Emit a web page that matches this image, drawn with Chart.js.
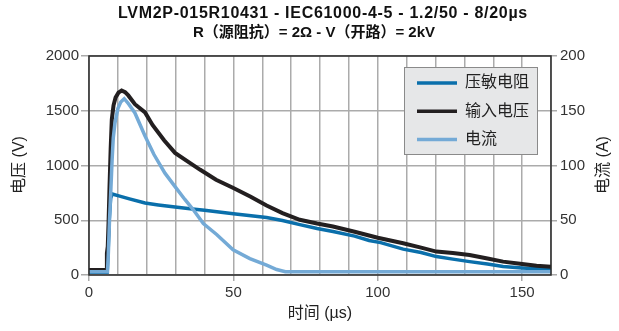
<!doctype html>
<html>
<head>
<meta charset="utf-8">
<title>LVM2P-015R10431 surge test</title>
<script src="https://cdn.jsdelivr.net/npm/chart.js@4.4.0/dist/chart.umd.min.js"></script>
<style>
  html, body { margin: 0; padding: 0; background: #fff; }
</style>
</head>
<body>
<canvas id="chart" width="619" height="331"></canvas>
<script>
// time in microseconds, voltage in V, current in A
var tVaristor = [0, 6.3, 6.6, 7.0, 7.5, 8.0, 10, 14, 19.4, 24, 29.8, 35, 40, 50, 61.5, 67, 73, 79, 84.5, 92, 97, 101, 108.8, 115, 120.3, 126, 131.8, 138, 143.4, 150, 155, 160];
var vVaristor = [25, 25, 200, 500, 700, 740, 725, 695, 657, 640, 620, 605, 592, 560, 525, 498, 460, 425, 397, 355, 315, 296, 236, 205, 168, 145, 122, 100, 78, 65, 58, 52];

var tInput = [0, 5.9, 6.2, 6.5, 6.8, 7.1, 7.5, 7.9, 8.5, 9.2, 10.2, 11.3, 12.5, 13.6, 15.9, 19.4, 22, 26, 29.8, 34, 38.4, 44, 50, 56, 61.5, 67, 73, 79, 84.5, 92, 100, 108.8, 115, 120.3, 126, 131.8, 138, 143.4, 150, 155, 160];
var vInput = [45, 45, 200, 260, 500, 800, 1150, 1420, 1550, 1620, 1665, 1685, 1670, 1640, 1560, 1485, 1370, 1230, 1115, 1040, 963, 870, 795, 715, 635, 565, 504, 470, 443, 395, 340, 290, 250, 214, 200, 183, 150, 122, 100, 85, 76];

var tCurrent = [0, 6.4, 6.7, 7.1, 7.6, 8.0, 8.4, 9.0, 10.0, 11.0, 12.2, 13.5, 15.9, 19.4, 22.5, 26.3, 30, 33.2, 36, 39.6, 44.2, 49.9, 55.7, 61.5, 65, 68, 80, 100, 120, 140, 160];
var iCurrent = [3, 3, 20, 50, 80, 105, 125, 139, 152, 158, 161, 157, 148, 127, 110, 93, 80, 69, 60, 47, 37, 23, 15, 9, 5, 3, 3, 3, 3, 3, 3];

var titleLines = ['LVM2P-015R10431 - IEC61000-4-5 - 1.2/50 - 8/20\u00b5s', 'R\uff08\u6e90\u963b\u6297\uff09= 2\u03a9 - V\uff08\u5f00\u8def\uff09= 2kV'];
var seriesNames = ['\u538b\u654f\u7535\u963b', '\u8f93\u5165\u7535\u538b', '\u7535\u6d41'];
var seriesColors = ['#0a6fab', '#231f20', '#74aad6'];

var FONT = '"Liberation Sans", Arial, "Noto Sans CJK SC", sans-serif';

function pts(xs, ys) {
	return xs.map(function (x, i) { return { x: x, y: ys[i] }; });
}

var overlay = {
	id: 'overlay',
	afterDraw: function (chart) {
		var ctx = chart.ctx;
		var a = chart.chartArea;
		ctx.save();

		// plot frame
		ctx.strokeStyle = '#2b2b2b';
		ctx.lineWidth = 1.5;
		ctx.strokeRect(a.left, a.top, a.right - a.left, a.bottom - a.top);

		// title (two lines)
		ctx.fillStyle = '#111';
		ctx.textAlign = 'center';
		ctx.textBaseline = 'middle';
		ctx.font = 'bold 16px ' + FONT;
		ctx.letterSpacing = '0.7px';
		ctx.fillText(titleLines[0], 323, 14);
		ctx.letterSpacing = '0px';
		ctx.font = 'bold 15px ' + FONT;
		ctx.fillText(titleLines[1], 314, 33);

		// axis titles
		ctx.font = '16px ' + FONT;
		ctx.fillStyle = '#222';
		ctx.fillText('\u65f6\u95f4 (\u00b5s)', 320, 314);
		ctx.save();
		ctx.translate(20, 165);
		ctx.rotate(-Math.PI / 2);
		ctx.fillText('\u7535\u538b (V)', 0, 0);
		ctx.restore();
		ctx.save();
		ctx.translate(604, 165);
		ctx.rotate(-Math.PI / 2);
		ctx.fillText('\u7535\u6d41 (A)', 0, 0);
		ctx.restore();

		// legend box
		ctx.fillStyle = '#e6e7e8';
		ctx.fillRect(404, 67, 134, 88);
		ctx.strokeStyle = '#8a8a8a';
		ctx.lineWidth = 1;
		ctx.strokeRect(404.5, 67.5, 133, 87);
		ctx.textAlign = 'left';
		ctx.font = '16px ' + FONT;
		for (var i = 0; i < seriesNames.length; i++) {
			var y = 83 + i * 28.3;
			ctx.strokeStyle = seriesColors[i];
			ctx.lineWidth = 3.5;
			ctx.beginPath();
			ctx.moveTo(417, y);
			ctx.lineTo(457, y);
			ctx.stroke();
			ctx.fillStyle = '#222';
			ctx.fillText(seriesNames[i], 465, y);
		}
		ctx.restore();
	}
};

var gridGray = '#ababab';
var plain = function (v) { return String(v); };

var config = {
	type: 'line',
	data: {
		datasets: [{
			label: seriesNames[2],
			data: pts(tCurrent, iCurrent),
			borderColor: seriesColors[2],
			borderWidth: 3.5,
			yAxisID: 'yRight',
			order: 0
		}, {
			label: seriesNames[1],
			data: pts(tInput, vInput),
			borderColor: seriesColors[1],
			borderWidth: 4,
			yAxisID: 'y',
			order: 1
		}, {
			label: seriesNames[0],
			data: pts(tVaristor, vVaristor),
			borderColor: seriesColors[0],
			borderWidth: 3.5,
			yAxisID: 'y',
			order: 2
		}]
	},
	options: {
		responsive: false,
		animation: false,
		layout: { padding: { top: 56, left: 0, right: 0, bottom: 0 } },
		elements: { point: { radius: 0 }, line: { tension: 0 } },
		plugins: { legend: { display: false }, title: { display: false }, tooltip: { enabled: false } },
		scales: {
			x: {
				type: 'linear',
				min: 0,
				max: 160,
				afterFit: function (s) { s.height = 56; },
				ticks: {
					stepSize: 10,
					autoSkip: false,
					maxRotation: 0,
					padding: 3,
					color: '#333',
					font: { family: FONT, size: 15 },
					callback: function (v) { return v % 50 === 0 ? String(v) : ''; }
				},
				grid: {
					color: gridGray,
					lineWidth: 1.5,
					tickLength: 6,
					tickColor: function (c) { return c.tick && c.tick.value % 50 === 0 ? gridGray : 'rgba(0,0,0,0)'; }
				},
				border: { display: false }
			},
			y: {
				position: 'left',
				min: 0,
				max: 2000,
				afterFit: function (s) { s.width = 89; },
				ticks: {
					stepSize: 500,
					padding: 2,
					color: '#333',
					font: { family: FONT, size: 15 },
					callback: plain
				},
				grid: { color: gridGray, lineWidth: 1.5, tickLength: 8 },
				border: { display: false }
			},
			yRight: {
				position: 'right',
				min: 0,
				max: 200,
				afterFit: function (s) { s.width = 68; },
				ticks: {
					stepSize: 50,
					padding: 3,
					color: '#333',
					font: { family: FONT, size: 15 },
					callback: plain
				},
				grid: { drawOnChartArea: false, color: gridGray, lineWidth: 1.5, tickLength: 6 },
				border: { display: false }
			}
		}
	},
	plugins: [overlay]
};

window.onload = function () {
	var ctx = document.getElementById('chart').getContext('2d');
	window.surgeChart = new Chart(ctx, config);
};
</script>
</body>
</html>
